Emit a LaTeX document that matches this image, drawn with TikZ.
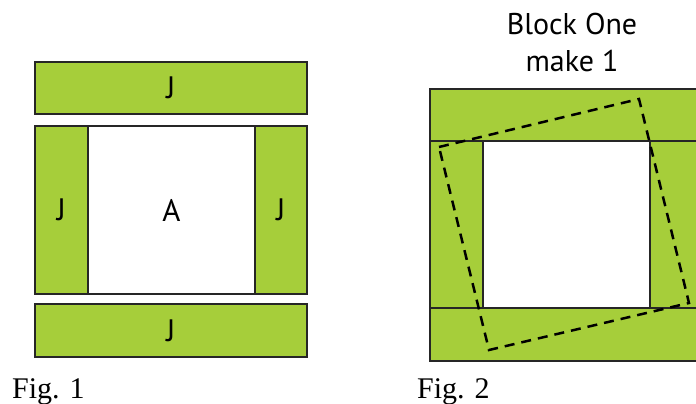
\documentclass[tikz,border=0pt]{standalone}
\usepackage{fontspec}
\setmainfont{Liberation Serif}
\newfontfamily\lblfont{PT Sans}
\definecolor{jgreen}{RGB}{166,206,58}
\begin{document}
\begin{tikzpicture}[x=1pt,y=-1pt,
  piece/.style={draw=black!85, line width=1.2pt, rectangle, inner sep=0pt, font=\lblfont\fontsize{31}{31}\selectfont},
  jpiece/.style={piece, fill=jgreen},
  apiece/.style={piece, fill=white},
  cutline/.style={draw=black, line width=2.5pt, dash pattern=on 10pt off 7pt},
  figlabel/.style={inner sep=0pt, anchor=base west, font=\fontsize{30}{30}\selectfont}]
\useasboundingbox (0,0) rectangle (696,404);
\clip (0,0) rectangle (696,404);
% Fig 1
\node[jpiece, minimum width=272pt, minimum height=52pt] (t1) at (171,88) {J};
\node[jpiece, minimum width=53pt, minimum height=168pt] (l1) at (61.5,210) {J};
\node[apiece, minimum width=167pt, minimum height=168pt] (a1) at (171.5,210) {A};
\node[jpiece, minimum width=52pt, minimum height=168pt] (r1) at (281,210) {J};
\node[jpiece, minimum width=272pt, minimum height=53pt] (b1) at (171,330.5) {J};
\node[figlabel] (f1) at (12,398) {Fig. 1};
% Fig 2
\node[jpiece, minimum width=270pt, minimum height=52pt] (t2) at (565,115) {};
\node[jpiece, minimum width=53pt, minimum height=167pt] (l2) at (456.5,224.5) {};
\node[apiece, minimum width=167pt, minimum height=167pt] (a2) at (566.5,224.5) {};
\node[jpiece, minimum width=50pt, minimum height=167pt] (r2) at (675,224.5) {};
\node[jpiece, minimum width=270pt, minimum height=53pt] (b2) at (565,334.5) {};
\coordinate (c1) at (439,147);
\coordinate (c2) at (639,99);
\coordinate (c3) at (689,303);
\coordinate (c4) at (489,350);
\draw[cutline] (c1) -- (c2) -- (c3) -- (c4) -- cycle;
\node[inner sep=0pt, anchor=base, align=center, font=\lblfont\fontsize{30}{38}\selectfont] (title) at (572,72) {Block One\\make 1};
\node[figlabel] (f2) at (417,398) {Fig. 2};
\end{tikzpicture}
\end{document}
